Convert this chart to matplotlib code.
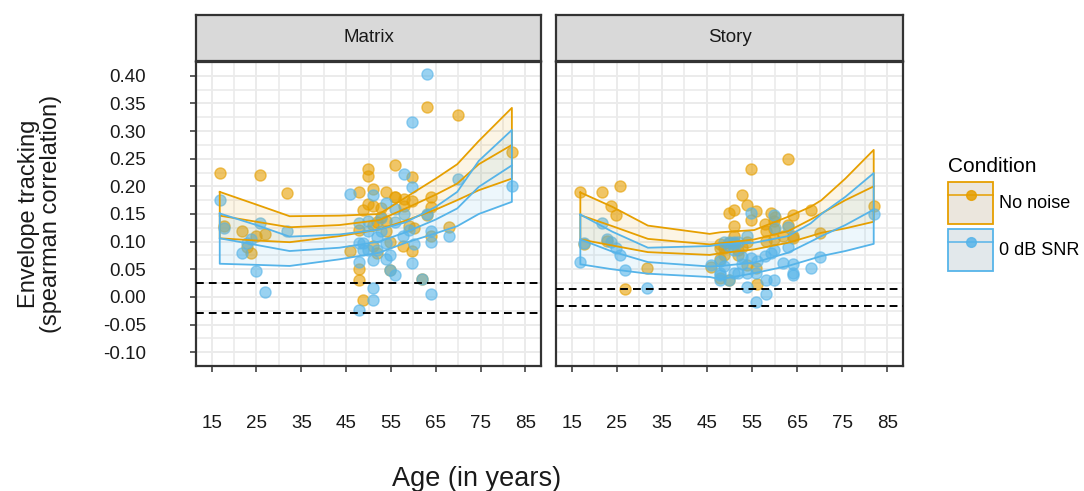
import matplotlib.pyplot as plt
from matplotlib.patches import Patch
from matplotlib.lines import Line2D
from matplotlib.colors import to_rgb

plt.rcParams['font.family'] = ['Liberation Sans', 'DejaVu Sans']

ORANGE = '#E69F00'
BLUE = '#56B4E9'

# one entry per participant (same people for both materials)
age = [16.8, 17.8, 21.8, 22.8, 23.8, 24.8, 25.8, 26.8, 31.8,
       45.9, 47.8, 47.8, 47.8, 47.8, 48.8, 48.8, 49.8, 49.8, 49.8,
       50.9, 50.9, 50.9, 50.9, 51.8, 51.8, 52.8, 52.8, 53.9, 53.9, 53.9,
       54.8, 54.8, 55.9, 55.9, 56.0, 57.8, 58.0, 58.0, 59.1, 59.8, 59.8,
       59.8, 60.1, 61.9, 63.0, 63.0, 64.0, 64.0, 64.0, 68.0, 70.0, 82.0]

matrix_quiet = [0.225, 0.129, 0.120, 0.090, 0.080, 0.110, 0.220, 0.114, 0.188,
                0.083, 0.190, 0.121, 0.051, 0.030, 0.158, -0.005, 0.231, 0.219, 0.168,
                0.195, 0.165, 0.093, 0.130, 0.135, 0.079, 0.145, 0.160, 0.190, 0.138, 0.120,
                0.049, 0.100, 0.238, 0.181, 0.180, 0.093, 0.177, 0.165, 0.129, 0.217, 0.174,
                0.083, 0.125, 0.033, 0.343, 0.149, 0.180, 0.162, 0.110, 0.127, 0.330, 0.263]
matrix_snr0 = [0.176, 0.125, 0.079, 0.098, 0.104, 0.046, 0.134, 0.008, 0.120,
               0.187, 0.133, 0.063, -0.023, 0.098, 0.097, 0.085, 0.137, 0.084, 0.120,
               0.184, 0.066, 0.017, -0.005, 0.084, 0.109, 0.143, 0.120, 0.170, 0.097, 0.068,
               0.049, 0.075, 0.159, 0.040, 0.135, 0.111, 0.223, 0.150, 0.121, 0.317, 0.198,
               0.062, 0.095, 0.033, 0.404, 0.150, 0.099, 0.006, 0.120, 0.111, 0.214, 0.200]
story_quiet = [0.190, 0.095, 0.190, 0.102, 0.164, 0.149, 0.201, 0.015, 0.052,
               0.055, 0.089, 0.069, 0.095, 0.035, 0.089, 0.075, 0.151, 0.030, 0.098,
               0.157, 0.129, 0.095, 0.110, 0.085, 0.075, 0.184, 0.090, 0.167, 0.058, 0.100,
               0.232, 0.140, 0.156, 0.053, 0.023, 0.132, 0.101, 0.120, 0.151, 0.137, 0.122,
               0.105, 0.145, 0.110, 0.249, 0.130, 0.149, 0.111, 0.107, 0.157, 0.115, 0.164]
story_snr0 = [0.063, 0.098, 0.133, 0.105, 0.100, 0.089, 0.076, 0.049, 0.016,
              0.058, 0.044, 0.030, 0.065, 0.040, 0.056, 0.100, 0.100, 0.030, 0.092,
              0.100, 0.044, 0.085, 0.098, 0.100, 0.044, 0.072, 0.060, 0.111, 0.044, 0.018,
              0.151, 0.070, 0.044, -0.009, 0.065, 0.074, 0.030, 0.006, 0.080, 0.149, 0.084,
              0.030, 0.125, 0.062, 0.127, 0.090, 0.060, 0.043, 0.040, 0.053, 0.073, 0.150]

# model predictions with confidence band
matrix_fit_age = [16.8, 25.0, 32.4, 43.5, 52.4, 58.3, 65.0, 69.8, 74.6, 82.0]
matrix_quiet_fit = [0.147, 0.136, 0.126, 0.130, 0.139, 0.160, 0.185, 0.205, 0.240, 0.275]
matrix_quiet_lo = [0.106, 0.102, 0.099, 0.110, 0.122, 0.138, 0.158, 0.175, 0.193, 0.214]
matrix_quiet_hi = [0.190, 0.167, 0.146, 0.147, 0.150, 0.180, 0.214, 0.240, 0.282, 0.342]
matrix_snr0_fit = [0.106, 0.094, 0.083, 0.089, 0.100, 0.117, 0.140, 0.160, 0.199, 0.238]
matrix_snr0_lo = [0.060, 0.058, 0.056, 0.068, 0.080, 0.098, 0.115, 0.128, 0.150, 0.172]
matrix_snr0_hi = [0.151, 0.130, 0.109, 0.113, 0.122, 0.135, 0.163, 0.190, 0.246, 0.302]

story_fit_age = [16.9, 24.0, 31.9, 45.6, 48.0, 55.5, 63.0, 68.0, 70.4, 75.7, 82.0]
story_quiet_fit = [0.148, 0.128, 0.105, 0.095, 0.097, 0.104, 0.119, 0.140, 0.151, 0.175, 0.200]
story_quiet_lo = [0.104, 0.093, 0.081, 0.076, 0.079, 0.086, 0.098, 0.110, 0.116, 0.124, 0.136]
story_quiet_hi = [0.189, 0.163, 0.129, 0.114, 0.117, 0.121, 0.145, 0.163, 0.175, 0.214, 0.266]
story_snr0_fit = [0.104, 0.082, 0.063, 0.055, 0.056, 0.062, 0.080, 0.100, 0.110, 0.130, 0.158]
story_snr0_lo = [0.059, 0.050, 0.042, 0.036, 0.032, 0.043, 0.056, 0.068, 0.074, 0.083, 0.096]
story_snr0_hi = [0.149, 0.118, 0.089, 0.092, 0.095, 0.098, 0.110, 0.133, 0.150, 0.181, 0.224]

# chance level (significance band of the null distribution)
matrix_chance = [-0.030, 0.026]
story_chance = [-0.017, 0.014]

conditions = ['No noise', '0 dB SNR']

W, H = 1084, 491
fig = plt.figure(figsize=(W / 100, H / 100), dpi=100)


def px_rect(x0, y0, x1, y1):
    return [x0 / W, 1 - y1 / H, (x1 - x0) / W, (y1 - y0) / H]


def band(ax, x, fit, lo, hi, color):
    ax.fill_between(x, lo, hi, color=color, alpha=0.1, lw=0, zorder=3)
    xs = x + x[::-1] + [x[0]]
    ys = hi + lo[::-1] + [hi[0]]
    ax.plot(xs, ys, color=color, lw=1.3, zorder=4)
    ax.plot(x, fit, color=color, lw=1.3, zorder=4)


def panel(rect, title, quiet, snr0, fits, chance, show_y):
    ax = fig.add_axes(px_rect(*rect))
    ax.set_xlim(11.5, 88.5)
    ax.set_ylim(-0.125, 0.425)
    ax.set_axisbelow(True)

    ax.set_xticks(range(15, 86, 10))
    ax.set_xticks(range(20, 81, 10), minor=True)
    yt = [-0.10 + 0.05 * i for i in range(11)]
    ax.set_yticks(yt)
    ax.set_yticks([-0.075 + 0.05 * i for i in range(10)], minor=True)
    ax.grid(True, which='major', color='#ebebeb', lw=1.4)
    ax.grid(True, which='minor', color='#ebebeb', lw=1.2)
    ax.tick_params(which='minor', length=0)
    ax.tick_params(which='major', length=4, width=1.1, color='#333333',
                   labelsize=13.5, labelcolor='#1a1a1a')
    ax.tick_params(axis='x', pad=31)
    if show_y:
        ax.set_yticklabels([f'{v:.2f}' for v in yt])
        ax.tick_params(axis='y', pad=32)
    else:
        ax.tick_params(axis='y', length=0, labelleft=False)
    for s in ax.spines.values():
        s.set_color('#333333')
        s.set_linewidth(1.6)

    ax.scatter(age, quiet, s=64, color=ORANGE, alpha=0.6, lw=1, zorder=2)
    ax.scatter(age, snr0, s=64, color=BLUE, alpha=0.6, lw=1, zorder=2)

    fx, q_fit, q_lo, q_hi, n_fit, n_lo, n_hi = fits
    band(ax, fx, q_fit, q_lo, q_hi, ORANGE)
    band(ax, fx, n_fit, n_lo, n_hi, BLUE)

    for v in chance:
        ax.axhline(v, color='black', lw=1.4, ls=(0, (4, 2.6)), zorder=5)

    sx = fig.add_axes(px_rect(rect[0], 15, rect[2], rect[1] - 1))
    sx.set_facecolor('#d9d9d9')
    sx.set_xticks([])
    sx.set_yticks([])
    for s in sx.spines.values():
        s.set_color('#333333')
        s.set_linewidth(1.6)
    sx.text(0.5, 0.5, title, ha='center', va='center', fontsize=13.5,
            color='#1a1a1a', transform=sx.transAxes)
    return ax


panel((196, 62, 541, 366), 'Matrix', matrix_quiet, matrix_snr0,
      (matrix_fit_age, matrix_quiet_fit, matrix_quiet_lo, matrix_quiet_hi,
       matrix_snr0_fit, matrix_snr0_lo, matrix_snr0_hi), matrix_chance, True)
panel((556, 62, 903, 366), 'Story', story_quiet, story_snr0,
      (story_fit_age, story_quiet_fit, story_quiet_lo, story_quiet_hi,
       story_snr0_fit, story_snr0_lo, story_snr0_hi), story_chance, False)

fig.text(477 / W, 1 - 479 / H, 'Age (in years)', ha='center', va='center',
         fontsize=19.5, color='#1a1a1a')
fig.text(40 / W, 1 - 214 / H, 'Envelope tracking\n(spearman correlation)',
         ha='center', va='center', rotation=90, fontsize=17,
         color='#1a1a1a', linespacing=1.05)

# legend keys: band + line with point, on a grey key background
grey = to_rgb('#ebebeb')
handles = []
for c in [ORANGE, BLUE]:
    rgb = to_rgb(c)
    tint = tuple(0.94 * g + 0.06 * v for g, v in zip(grey, rgb))
    box = Patch(facecolor=tint, edgecolor=c, lw=1.3)
    line = Line2D([], [], color=c, lw=1.3, marker='o', ms=7,
                  markerfacecolor=c, markeredgecolor=c, alpha=0.85)
    handles.append((box, line))
leg = fig.legend(handles, conditions, loc='upper left',
                 bbox_to_anchor=(926.5 / W, 1 - 135.5 / H), frameon=False,
                 title='Condition', title_fontsize=15, fontsize=13,
                 handlelength=2.5, handleheight=3.2, labelspacing=0.3,
                 handletextpad=0.3, alignment='left', borderaxespad=0,
                 borderpad=1.2)

fig.savefig('out.png', dpi=100)
